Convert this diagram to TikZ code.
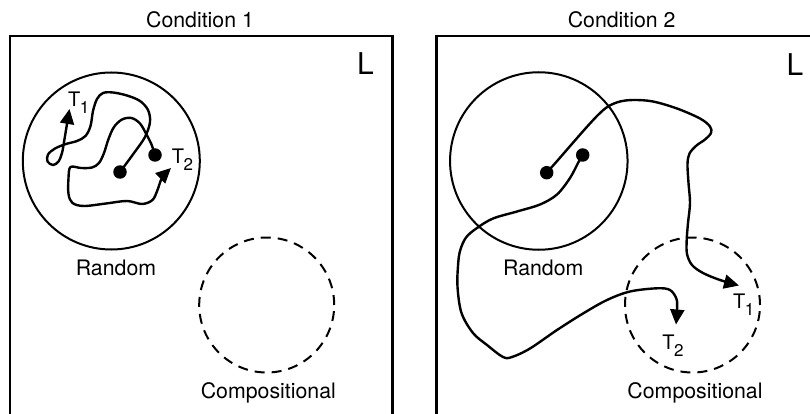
\documentclass[tikz,border=0pt]{standalone}
\usepackage{fontspec}
\setmainfont{TeX Gyre Heros}
\usetikzlibrary{arrows.meta}
\newcommand\Tsub[1]{T\kern-0.5pt\raisebox{-7pt}{\fontsize{17}{17}\selectfont #1}}
\begin{document}
\begin{tikzpicture}[x=1pt,y=-1pt,
  frame/.style={line width=2.5pt},
  ring/.style={circle,draw,line width=2pt,inner sep=0pt},
  dashring/.style={circle,draw,line width=2pt,inner sep=0pt,dash pattern=on 10pt off 7pt},
  dot/.style={circle,fill,inner sep=0pt,minimum size=13.5pt},
  walk/.style={line width=2.4pt,line join=round,-{Triangle[length=15pt,width=14pt]}},
  title/.style={font=\fontsize{21.3}{25}\selectfont,inner sep=0pt},
  bigL/.style={font=\fontsize{30}{34}\selectfont,inner sep=0pt},
  tlab/.style={font=\fontsize{20}{22}\selectfont,inner sep=0pt}]
\useasboundingbox (0,0) rectangle (810,414);
\clip (0,0) rectangle (810,414);
\fill[white] (0,0) rectangle (810,414);

% ---------- Condition 1 ----------
\node[title] (c1) at (200,20) {Condition 1};
\draw[frame] (10,430) |- (392.5,36) -- (392.5,430);
\node[bigL] (L1) at (365.5,64) {L};
\node[ring,minimum size=177pt] (rand1) at (111.3,161) {};
\node[title] (randlab1) at (116,268) {Random};
\node[dashring,minimum size=135pt] (comp1) at (266.7,305) {};
\node[title] (complab1) at (268.3,393) {Compositional};

\node[dot] (a1) at (120,172) {};
\node[dot] (a2) at (155,155) {};
\coordinate (a1end) at (69.5,109);
\coordinate (a2end) at (171,168);

\draw[walk] plot[smooth,tension=0.55] coordinates {(a1) (134,153) (145,137) (150,122) (148,110) (140,101) (127,95.5) (113,92.5) (103,93) (97,99) (93,111) (90.5,126) (85.5,136) (77,141) (66,144) (55,148.5) (48,154.5) (47.5,161.5) (53,165) (58.5,161.5) (62,153) (64,142) (66.5,127) (a1end)};
\draw[walk] plot[smooth,tension=0.55] coordinates {(a2) (151.5,144.5) (146.5,134.5) (140,123.5) (131.5,118) (122,119.5) (114,127) (108.5,139) (104,153) (99,163) (92,167.5) (81,168) (70.5,167) (68.5,178) (68.5,194) (72.5,203) (84,206) (106,203.5) (127,201) (142,204) (152.5,200) (157.5,190) (162,178) (a2end)};
\node[tlab] (t11) at (78.8,103) {\Tsub{1}};
\node[tlab] (t12) at (182.5,159.5) {\Tsub{2}};

% ---------- Condition 2 ----------
\node[title] (c2) at (621.7,20) {Condition 2};
\draw[frame] (436.7,430) |- (830,36);
\node[bigL] (L2) at (795,65) {L};
\node[ring,minimum size=177.5pt] (rand2) at (538.8,161) {};
\node[title] (randlab2) at (543.3,268) {Random};
\node[dashring,minimum size=135pt] (comp2) at (692.5,305) {};
\node[title] (complab2) at (695,393) {Compositional};

\node[dot] (b1) at (546.7,172.7) {};
\node[dot] (b2) at (582.7,155) {};
\coordinate (b1end) at (739,285.5);
\coordinate (b2end) at (676,324.5);

\draw[walk] plot[smooth,tension=0.55] coordinates {(b1) (558,160) (571,145) (585,129) (598,115) (608,106.5) (620,101.5) (634,100) (653,101.5) (677,108.5) (700,118.5) (710,126.5) (711,133) (705,139.5) (696.5,145.5) (689.5,153.5) (687.5,164) (688.5,183) (690,203) (688,223) (686.7,240) (687,254) (692,265) (703,273) (720,280) (b1end)};
\draw[walk] plot[smooth,tension=0.55] coordinates {(b2) (578,163) (570,178) (557,194.5) (540,204.5) (517,211.5) (493,218.5) (477,228) (466,237.5) (460,251) (458,266) (457.5,287) (461.5,313) (473,333) (487,345) (503,357) (512,357) (530,348.5) (557,330) (583,313.5) (607,300) (630,291.5) (657,288.3) (670,290) (676.5,299) (677,310) (b2end)};
\node[tlab] (t21) at (743.8,305) {\Tsub{1}};
\node[tlab] (t22) at (673,345.8) {\Tsub{2}};
\end{tikzpicture}
\end{document}
